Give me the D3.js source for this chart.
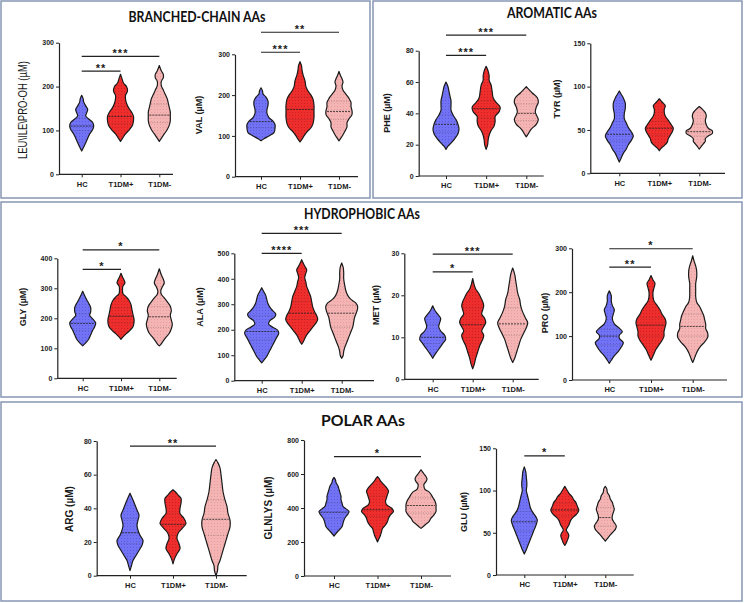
<!DOCTYPE html>
<html>
<head>
<meta charset="utf-8">
<script src="https://cdn.jsdelivr.net/npm/d3@7"></script>
<style>
  body { margin: 0; background: #fff; }
  svg { display: block; }
  text { font-family: "Liberation Sans", Arial, sans-serif; fill: #1a1a1a; }
  .title { font-family: Lato, "Open Sans", sans-serif; font-weight: bold; font-size: 15px; fill: #111; }
  .tick text { font-family: "Liberation Sans", Arial, sans-serif; font-size: 7px; font-weight: bold; }
</style>
</head>
<body>
<div id="chart"></div>
<script>
var groups = ['HC', 'T1DM+', 'T1DM-'];
var fills = ['#7272f4', '#ee2d2d', '#f5b4b4'];
var dots = ['#4a4ad2', '#b71818', '#d98c8c'];

/* violin outlines: [value, relative half width] */
var leuProfiles = [
  [[53,0],[62,2],[72,4],[82,6],[92,8],[102,11],[110,12],[118,11],[126,7],[133,4],[140,5],[148,6],[156,4],[165,2],[172,1.5],[180,0]],
  [[75,0],[82,2],[92,5],[102,9],[112,12],[122,13],[132,13],[142,11],[152,8],[162,6],[172,5],[180,5],[190,7],[200,6],[208,3],[218,1.5],[228,0]],
  [[75,0],[82,2],[92,5],[102,8],[112,10],[122,11],[132,11],[142,11],[152,10],[162,9],[172,8],[182,6],[192,4],[202,2],[212,2],[220,4],[228,4],[236,2],[248,0]]
];
var leuQuart = [[100,110,128],[115,132,155],[118,135,160]];
var leuTicks = [0, 100, 200, 300];
var leuSig = [[0,1,'**',235],[0,2,'***',269]];

var valProfiles = [
  [[88,0],[93,3],[100,8],[108,13],[118,14],[128,14],[136,12],[145,8],[155,6],[165,6],[175,7],[185,7],[195,5],[203,2],[210,1.5],[218,0]],
  [[85,0],[92,2],[100,4],[110,7],[120,11],[130,13],[145,14],[160,14],[175,14],[190,13],[200,11],[210,8],[220,6],[235,5],[250,3],[262,2],[272,1.5],[282,0]],
  [[88,0],[95,2],[103,4],[112,6],[122,8],[132,8],[142,10],[152,13],[162,13],[172,12],[182,12],[192,10],[202,7],[212,4],[222,3],[232,4],[240,3],[248,1.5],[258,0]]
];
var valQuart = [[120,135,160],[140,165,195],[140,160,185]];
var valTicks = [0, 100, 200, 300];
var valSig = [[0,1,'***',305],[0,2,'**',354]];

var pheProfiles = [
  [[17,0],[19,2],[21,5],[24,9],[27,12],[30,13],[33,12],[36,10],[39,7],[42,5],[45,5],[48,5],[51,4],[54,3],[57,2],[60,0]],
  [[17,0],[20,1.5],[23,2],[26,3],[29,5],[32,8],[35,9],[38,9],[41,13],[44,14],[47,10],[50,7],[54,6],[58,5],[61,3],[64,3],[67,2],[70,0]],
  [[25,0],[27,2],[30,5],[33,10],[36,12],[39,10],[41,9],[44,10],[47,12],[50,11],[53,6],[55,3],[57,0]]
];
var pheQuart = [[28,33,39],[37,43,48],[35.5,40,46]];
var pheTicks = [0, 20, 40, 60, 80];
var pheSig = [[0,1,'***',77],[0,2,'***',90]];

var tyrProfiles = [
  [[13,0],[18,2],[23,4],[28,7],[33,9],[38,12],[43,14],[48,12],[53,9],[58,7],[63,5],[69,5],[75,6],[81,6],[87,4],[91,2],[95,0]],
  [[26,0],[29,2],[32,5],[36,8],[40,9],[44,11],[48,13],[52,14],[56,12],[61,9],[66,6],[70,5],[74,5],[78,6],[82,3],[86,0]],
  [[28,0],[31,2],[34,4],[37,6],[40,6],[43,9],[46,13],[49,13],[52,9],[56,7],[61,6],[66,7],[70,6],[74,3],[77,0]]
];
var tyrQuart = [[37,45,60],[44,52,60],[43,48,57]];
var tyrTicks = [0, 50, 100, 150];
var tyrSig = [];

var glyProfiles = [
  [[108,0],[118,3],[130,6],[145,8],[160,10],[172,12],[185,13],[198,10],[210,7],[222,8],[236,8],[250,6],[262,4],[275,2],[290,0]],
  [[130,0],[138,2],[148,5],[160,9],[172,12],[185,13],[198,13],[212,12],[228,11],[245,10],[260,8],[272,5],[282,2],[295,1.5],[308,2],[318,4],[328,3],[338,1.5],[350,0]],
  [[108,0],[115,2],[125,4],[138,7],[150,10],[165,12],[180,13],[195,12],[210,11],[225,12],[240,11],[255,8],[268,5],[280,2],[292,1.5],[305,3],[318,5],[330,4],[345,2],[365,0]]
];
var glyQuart = [[160,183,215],[185,207,235],[170,205,240]];
var glyTicks = [0, 100, 200, 300, 400];
var glySig = [[0,1,'*',363],[0,2,'*',428]];

var alaProfiles = [
  [[70,0],[80,2],[95,5],[110,7],[125,9],[140,11],[155,13],[170,15],[185,17],[198,16],[210,11],[222,7],[235,8],[250,13],[262,14],[275,11],[290,8],[305,6],[320,5],[335,4],[350,2],[365,0]],
  [[143,0],[152,1.5],[165,3],[180,5],[195,8],[210,11],[225,14],[240,16],[255,15],[270,13],[290,11],[310,10],[330,9],[350,7],[370,5],[390,4],[405,3],[420,4],[435,5],[450,3],[462,1.5],[475,0]],
  [[88,0],[100,1.5],[115,2],[130,3],[150,5],[170,7],[190,9],[210,11],[230,12],[250,13],[270,15],[290,16],[305,14],[320,9],[335,6],[355,4],[375,3],[400,2],[425,2],[445,1.5],[462,0]]
];
var alaQuart = [[160,193,255],[240,265,310],[210,265,295]];
var alaTicks = [0, 100, 200, 300, 400, 500];
var alaSig = [[0,1,'****',500],[0,2,'***',578]];

var metProfiles = [
  [[5,0],[5.8,2],[6.5,4],[7.5,7],[8.5,10],[9.5,13],[10.5,12],[11.5,8],[12.5,6],[13.5,7],[14.5,8],[15.5,5],[16.5,2],[17.5,0]],
  [[2.5,0],[3.5,1.5],[5,3],[6.5,5],[8,7],[9.5,10],[10.5,11],[11.5,9],[12.5,11],[13.5,13],[14.5,12],[15.5,9],[16.5,10],[17.5,11],[18.5,10],[19.5,8],[20.5,6],[21.5,3],[22.5,1.5],[24,0]],
  [[4,0],[5,2],[6.5,4],[8,6],[9.5,8],[11,11],[12.5,14],[13.5,15],[14.5,13],[16,10],[17.5,8],[19,7],[20.5,5],[22,4],[23.5,3],[25,2],[26.5,0]]
];
var metQuart = [[8.5,10,13],[10,13,17],[10.5,13.2,17]];
var metTicks = [0, 10, 20, 30];
var metSig = [[0,1,'*',25.6],[0,2,'***',29.8]];

var proProfiles = [
  [[38,0],[45,2],[55,5],[65,9],[75,12],[85,14],[95,10],[102,10],[110,13],[118,10],[128,5],[140,3],[150,4],[160,5],[170,3],[180,2],[192,2],[203,0]],
  [[45,0],[52,1.5],[60,3],[70,5],[80,8],[90,11],[100,13],[110,13],[120,14],[130,15],[140,14],[150,11],[160,9],[170,6],[180,3],[190,2],[200,2],[210,3],[220,4],[228,2],[238,0]],
  [[40,0],[48,1.5],[57,3],[67,5],[77,8],[87,12],[97,15],[107,15],[117,13],[127,13],[137,12],[147,11],[157,9],[167,7],[177,4],[190,3],[205,3],[220,3],[235,4],[248,4],[260,3],[270,1.5],[283,0]]
];
var proQuart = [[80,100,115],[100,125,142],[100,122,150]];
var proTicks = [0, 100, 200, 300];
var proSig = [[0,1,'**',257],[0,2,'*',299]];

var argProfiles = [
  [[3,0],[6,1.5],[9,3],[12,6],[15,9],[18,12],[21,13],[24,10],[27,8],[30,7],[33,8],[36,9],[39,7],[42,5],[45,3],[47,1.5],[49,0]],
  [[7,0],[10,1.5],[13,4],[16,7],[19,6],[22,4],[25,5],[28,9],[31,13],[34,11],[37,7],[40,7],[43,8],[46,8],[48,5],[50,2],[51,0]],
  [[0,0],[3,1.5],[6,2],[9,4],[13,6],[17,8],[21,10],[25,12],[29,14],[33,14],[37,12],[41,11],[45,9],[50,7],[55,6],[60,5],[64,4],[67,2],[69,0]]
];
var argQuart = [[19,25.5,34],[24,30.5,37],[24,33.5,45]];
var argTicks = [0, 20, 40, 60, 80];
var argSig = [[0,2,'**',77]];

var glnProfiles = [
  [[235,0],[250,2],[270,5],[290,8],[310,9],[330,10],[350,12],[365,14],[380,15],[395,12],[410,9],[430,8],[450,7],[470,7],[490,6],[510,5],[530,4],[550,2],[565,1.5],[580,0]],
  [[200,0],[220,1.5],[240,3],[260,4],[280,5],[300,8],[320,10],[340,11],[360,13],[380,16],[400,14],[420,9],[440,8],[460,9],[480,10],[500,11],[520,9],[540,6],[560,3],[575,1.5],[585,0]],
  [[280,0],[290,2],[305,5],[320,8],[340,10],[360,13],[380,15],[400,15],[420,15],[440,14],[460,12],[480,10],[495,8],[510,4],[525,3],[540,3],[555,5],[570,6],[585,5],[600,3],[612,1.5],[625,0]]
];
var glnQuart = [[340,375,430],[350,390,470],[370,415,460]];
var glnTicks = [0, 200, 400, 600, 800];
var glnSig = [[0,2,'*',702]];

var gluProfiles = [
  [[25,0],[30,2],[36,4],[42,6],[48,8],[54,10],[60,12],[65,13],[70,11],[75,8],[80,6],[85,5],[90,4],[95,3],[100,2],[105,2.5],[110,2.5],[116,2],[122,1.5],[128,0]],
  [[35,0],[38,1.5],[41,2.5],[44,3.5],[47,4],[50,3],[53,1.5],[56,2.5],[59,4],[62,5],[65,6],[68,8],[71,11],[74,13],[77,14],[80,13],[83,12],[86,11],[89,9],[93,7],[97,4],[101,2],[105,0]],
  [[40,0],[43,2],[46,4],[50,7],[54,10],[58,11],[62,9],[66,7],[70,7],[74,8],[78,9],[82,8],[86,7],[90,5],[94,4],[98,2],[102,1.5],[105,0]]
];
var gluQuart = [[52,63,75],[70,77,85],[58,68,80]];
var gluTicks = [0, 50, 100, 150];
var gluSig = [[0,1,'*',141]];

var titles = ['BRANCHED-CHAIN AAs', 'AROMATIC AAs', 'HYDROPHOBIC AAs', 'POLAR AAs'];

var width = 744, height = 603;

var svg = d3.select('#chart')
  .append('svg')
  .attr('width', width)
  .attr('height', height);

// dotted texture for each group
var defs = svg.append('defs');
groups.forEach(function(g, i) {
  var p = defs.append('pattern')
    .attr('id', 'pat' + i)
    .attr('width', 3)
    .attr('height', 3)
    .attr('patternUnits', 'userSpaceOnUse');
  p.append('rect').attr('width', 3).attr('height', 3).attr('fill', fills[i]);
  p.append('rect').attr('x', 1).attr('y', 1).attr('width', 1).attr('height', 1)
    .attr('fill', dots[i]).attr('opacity', 0.55);
});

// panel frames
var frames = [
  {x: 1, y: 1, w: 369, h: 197},
  {x: 373, y: 1, w: 369, h: 197},
  {x: 1, y: 202, w: 741, h: 195},
  {x: 1, y: 402, w: 741, h: 199}
];
frames.forEach(function(f) {
  svg.append('rect')
    .attr('x', f.x).attr('y', f.y)
    .attr('width', f.w).attr('height', f.h)
    .attr('fill', 'none')
    .attr('stroke', '#8796b4')
    .attr('stroke-width', 1.5);
});

var titlePos = [
  {x: 197, y: 21.5, len: 137},
  {x: 552, y: 17.5, len: 90},
  {x: 362, y: 219, len: 116},
  {x: 363, y: 426, len: 84}
];
titles.forEach(function(t, i) {
  svg.append('text')
    .attr('class', 'title')
    .attr('x', titlePos[i].x)
    .attr('y', titlePos[i].y)
    .attr('text-anchor', 'middle')
    .attr('textLength', titlePos[i].len)
    .attr('lengthAdjust', 'spacingAndGlyphs')
    .text(t);
});

var panels = [
  {label: 'LEU\\ILE\\PRO-OH (µM)', prof: leuProfiles, quart: leuQuart, ticks: leuTicks, sig: leuSig,
   ax: 59, x0: 81.7, x2: 159.3, xEnd: 173, yTop: 42.7, yBot: 174.3, lx: 23, ly: 110, lsize: 12, lweight: 'normal', llen: 98},
  {label: 'VAL (µM)', prof: valProfiles, quart: valQuart, ticks: valTicks, sig: valSig,
   ax: 235, x0: 261, x2: 339, xEnd: 358, yTop: 54.3, yBot: 176.7, lx: 199, ly: 115},
  {label: 'PHE (µM)', prof: pheProfiles, quart: pheQuart, ticks: pheTicks, sig: pheSig,
   ax: 418.7, x0: 446, x2: 526.3, xEnd: 543.7, yTop: 50.7, yBot: 176, lx: 387, ly: 113},
  {label: 'TYR (µM)', prof: tyrProfiles, quart: tyrQuart, ticks: tyrTicks, sig: tyrSig,
   ax: 590.3, x0: 619.3, x2: 699.3, xEnd: 725, yTop: 43.3, yBot: 173.3, lx: 557, ly: 99},
  {label: 'GLY (µM)', prof: glyProfiles, quart: glyQuart, ticks: glyTicks, sig: glySig,
   ax: 57.3, x0: 82.7, x2: 159.3, xEnd: 176.7, yTop: 258.3, yBot: 378.3, lx: 23, ly: 307},
  {label: 'ALA (µM)', prof: alaProfiles, quart: alaQuart, ticks: alaTicks, sig: alaSig,
   ax: 234.3, x0: 261.7, x2: 341.7, xEnd: 374, yTop: 253.3, yBot: 380.7, lx: 200, ly: 307},
  {label: 'MET (µM)', prof: metProfiles, quart: metQuart, ticks: metTicks, sig: metSig,
   ax: 404.3, x0: 432.7, x2: 512.7, xEnd: 538.7, yTop: 253.3, yBot: 379.3, lx: 376, ly: 305},
  {label: 'PRO (µM)', prof: proProfiles, quart: proQuart, ticks: proTicks, sig: proSig,
   ax: 572, x0: 609.3, x2: 692.7, xEnd: 727, yTop: 248.3, yBot: 380, lx: 545, ly: 313},
  {label: 'ARG (µM)', prof: argProfiles, quart: argQuart, ticks: argTicks, sig: argSig,
   ax: 96.7, x0: 130, x2: 216, xEnd: 246.7, yTop: 441, yBot: 575.7, lx: 69, ly: 509, lsize: 10},
  {label: 'GLNLYS (µM)', prof: glnProfiles, quart: glnQuart, ticks: glnTicks, sig: glnSig,
   ax: 304, x0: 334, x2: 421, xEnd: 451, yTop: 440, yBot: 576, lx: 268, ly: 508, lsize: 10},
  {label: 'GLU (µM)', prof: gluProfiles, quart: gluQuart, ticks: gluTicks, sig: gluSig,
   ax: 496, x0: 524.3, x2: 605.3, xEnd: 633.7, yTop: 448.3, yBot: 575, lx: 464, ly: 512}
];

function halfAt(profile, v) {
  for (var k = 1; k < profile.length; k++) {
    if (v <= profile[k][0]) {
      var a = profile[k - 1], b = profile[k];
      return a[1] + (b[1] - a[1]) * (v - a[0]) / (b[0] - a[0]);
    }
  }
  return 0;
}

panels.forEach(drawPanel);

function drawPanel(p) {
  var g = svg.append('g');

  var y = d3.scaleLinear()
    .domain([0, d3.max(p.ticks)])
    .range([p.yBot, p.yTop]);

  var x = d3.scalePoint()
    .domain(groups)
    .range([p.x0, p.x2]);

  var w = d3.scaleLinear().domain([0, 10]).range([0, 10]);

  // violins
  groups.forEach(function(grp, i) {
    var cx = x(grp);
    var area = d3.area()
      .y(function(d) { return y(d[0]); })
      .x0(function(d) { return cx - w(d[1]); })
      .x1(function(d) { return cx + w(d[1]); })
      .curve(d3.curveCatmullRom.alpha(0.5));

    g.append('path')
      .datum(p.prof[i])
      .attr('d', area)
      .attr('fill', 'url(#pat' + i + ')')
      .attr('stroke', '#1a1a1a')
      .attr('stroke-width', 1.2)
      .attr('stroke-linejoin', 'round');

    p.quart[i].forEach(function(q, k) {
      var hw = w(halfAt(p.prof[i], q));
      g.append('line')
        .attr('x1', cx - hw + 1).attr('x2', cx + hw - 1)
        .attr('y1', y(q)).attr('y2', y(q))
        .attr('stroke', k === 1 ? '#222' : '#333')
        .attr('stroke-width', k === 1 ? 0.9 : 0.6)
        .attr('stroke-dasharray', k === 1 ? '2,1' : '1,1.5')
        .attr('opacity', k === 1 ? 0.9 : 0.55);
    });
  });

  // y axis
  var yAxis = g.append('g')
    .attr('transform', 'translate(' + p.ax + ',0)')
    .call(d3.axisLeft(y).tickValues(p.ticks).tickSize(3).tickSizeOuter(0).tickPadding(2));
  yAxis.select('.domain').attr('stroke', '#222').attr('stroke-width', 1.2);
  yAxis.selectAll('.tick line').attr('stroke', '#222').attr('stroke-width', 1);

  // x axis
  var xAxis = g.append('g')
    .attr('transform', 'translate(0,' + p.yBot + ')')
    .call(d3.axisBottom(x).tickSize(3).tickSizeOuter(0).tickPadding(4));
  xAxis.select('.domain').remove();
  xAxis.selectAll('.tick line').attr('stroke', '#222');
  xAxis.selectAll('.tick text').style('font-size', '7.5px');
  g.append('line')
    .attr('x1', p.ax).attr('x2', p.xEnd)
    .attr('y1', p.yBot).attr('y2', p.yBot)
    .attr('stroke', '#222')
    .attr('stroke-width', 1.2);

  // y label
  var lab = g.append('text')
    .attr('transform', 'translate(' + p.lx + ',' + p.ly + ') rotate(-90)')
    .attr('text-anchor', 'middle')
    .attr('dy', '0.35em')
    .style('font-size', (p.lsize || 9) + 'px')
    .style('font-weight', p.lweight || 'bold')
    .text(p.label);
  if (p.llen) lab.attr('textLength', p.llen).attr('lengthAdjust', 'spacingAndGlyphs');

  // significance bars
  p.sig.forEach(function(s) {
    var x1 = x(groups[s[0]]), x2 = x(groups[s[1]]);
    g.append('line')
      .attr('x1', x1).attr('x2', x2)
      .attr('y1', y(s[3])).attr('y2', y(s[3]))
      .attr('stroke', '#222')
      .attr('stroke-width', 1.2);
    g.append('text')
      .attr('x', (x1 + x2) / 2)
      .attr('y', y(s[3]) + 0.5)
      .attr('text-anchor', 'middle')
      .style('font-size', '11px')
      .style('font-weight', 'bold')
      .style('letter-spacing', '1px')
      .text(s[2]);
  });
}
</script>
</body>
</html>
